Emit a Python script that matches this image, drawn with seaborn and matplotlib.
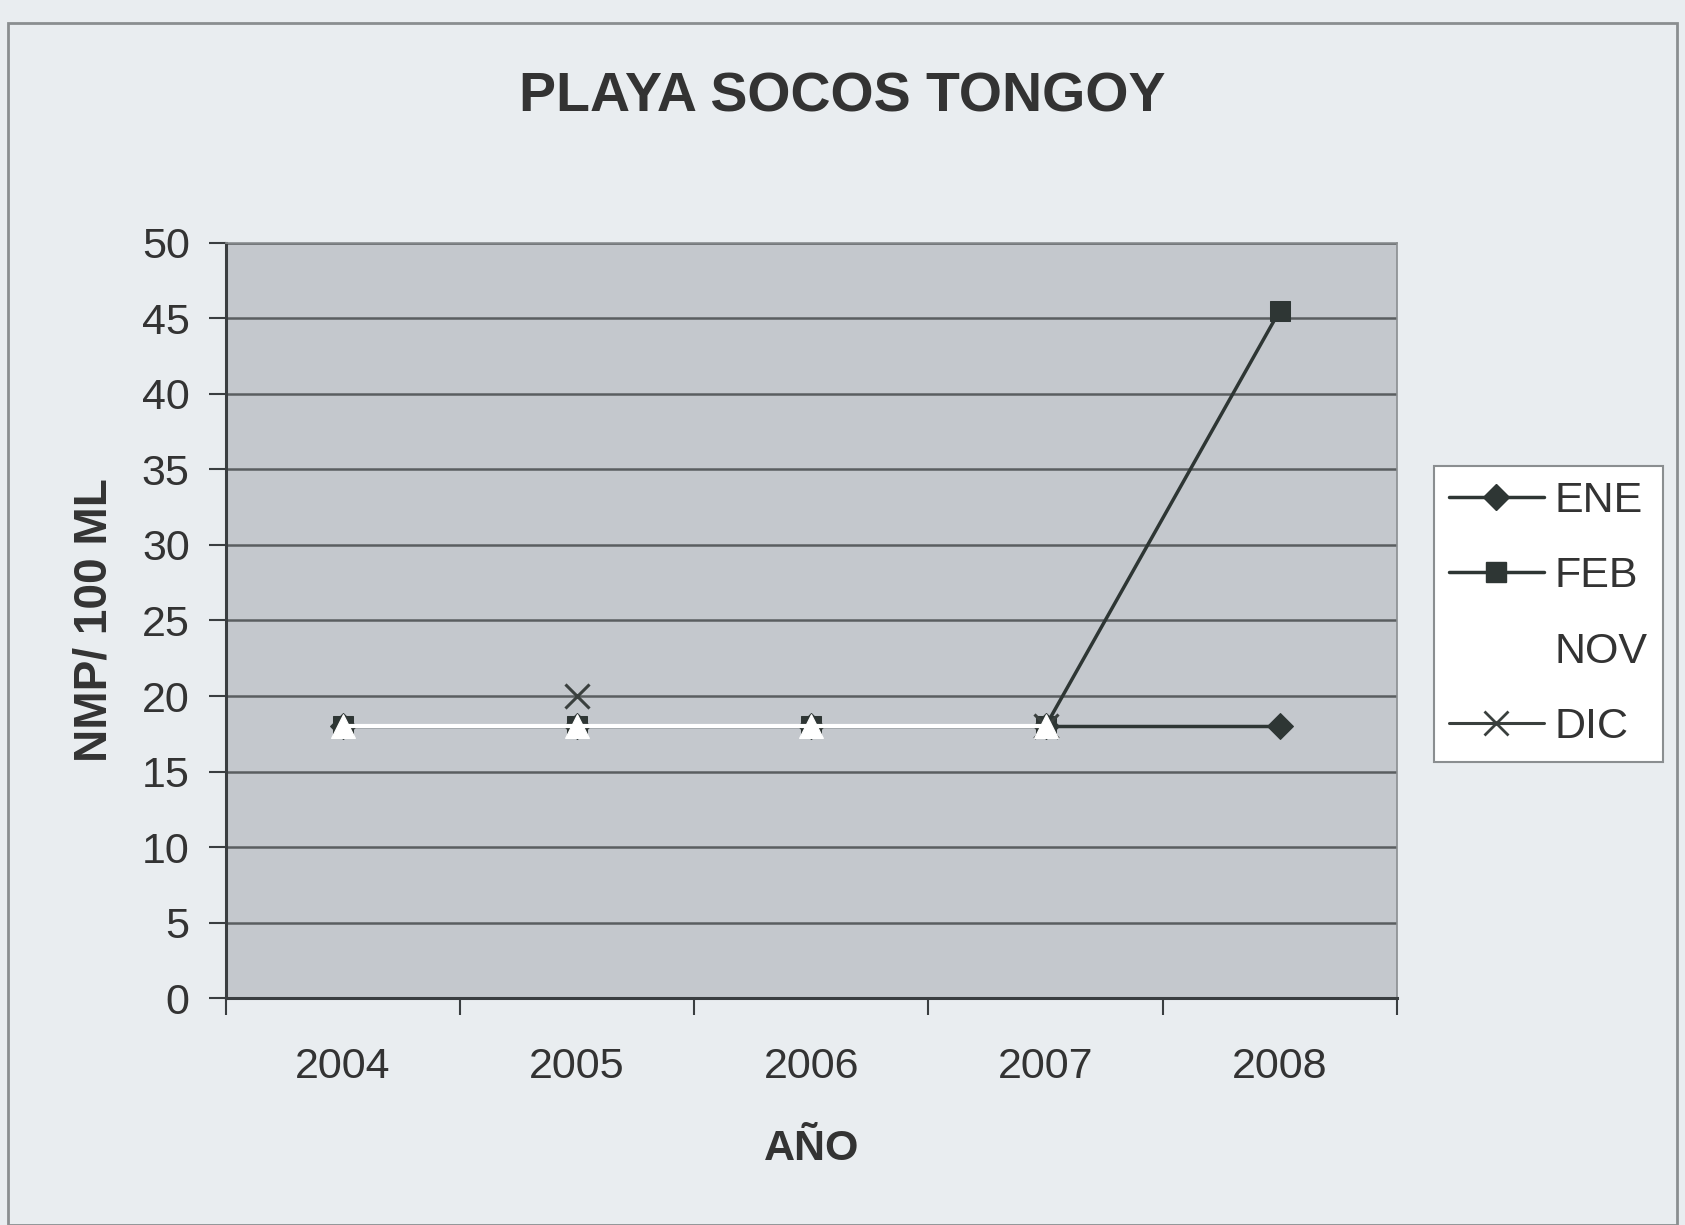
import numpy as np
import pandas as pd
import matplotlib
matplotlib.use("Agg")
import matplotlib.pyplot as plt
from matplotlib.lines import Line2D
from matplotlib.patches import Rectangle
import seaborn as sns

years = ["2004", "2005", "2006", "2007", "2008"]
ene = [18, 18, 18, 18, 18]
feb = [18, 18, 18, 18, 45.5]
nov = [18, 18, 18, 18, np.nan]
dic = [np.nan, 20, np.nan, 18, np.nan]

sns.set_theme(style="white")
plt.rcParams['font.family'] = ['Liberation Sans', 'DejaVu Sans']

fig = plt.figure(figsize=(16.85, 12.25), dpi=100)
fig.patch.set_facecolor("#e9edf0")
ax = fig.add_axes([0.134, 0.185, 0.695, 0.617])
ax.set_facecolor("#c4c8cd")

fig.patches.append(Rectangle((8/1685, 0), (1677-8)/1685, 1 - 23/1225, transform=fig.transFigure,
                             fill=False, edgecolor="#8a8e90", linewidth=2))

x = np.arange(len(years))
dark = "#2e3634"
df_ene = pd.DataFrame({"x": x, "y": ene})
df_feb = pd.DataFrame({"x": x, "y": feb})
df_nov = pd.DataFrame({"x": x, "y": nov}).dropna()
df_dic = pd.DataFrame({"x": x, "y": dic}).dropna()

sns.lineplot(data=df_ene, x="x", y="y", ax=ax, color=dark, lw=2.5, marker="D", markersize=13,
             markeredgecolor=dark, zorder=3)
sns.lineplot(data=df_feb, x="x", y="y", ax=ax, color=dark, lw=2.5, marker="s", markersize=15,
             markeredgecolor=dark, zorder=3)
sns.scatterplot(data=df_dic, x="x", y="y", ax=ax, color="#3a403e", marker="x", s=300, linewidth=2.2,
                zorder=4)
sns.lineplot(data=df_nov, x="x", y="y", ax=ax, color="white", lw=3, marker="^", markersize=17,
             markeredgecolor="white", zorder=5)

ax.set_xlim(-0.5, 4.5)
ax.set_ylim(0, 50)
ax.set_yticks(np.arange(0, 51, 5))
ax.yaxis.grid(True, color="#5a5e60", lw=1.8)
ax.set_axisbelow(True)
ax.set_xticks(np.arange(-0.5, 4.6, 1))
ax.set_xticklabels([])
ax.set_xticks(x, minor=True)
ax.set_xticklabels(years, minor=True)
ax.tick_params(axis="x", which="major", direction="out", length=12, width=1.5, color="#3a3e40", bottom=True)
ax.tick_params(axis="x", which="minor", length=0, pad=35, labelsize=31, labelcolor="#333333")
ax.tick_params(axis="y", direction="out", length=12, width=1.5, color="#3a3e40", left=True,
               labelsize=31, labelcolor="#333333", pad=14)
for s in ["left", "bottom"]:
    ax.spines[s].set_color("#3a3e40")
    ax.spines[s].set_linewidth(2.2)
for s in ["top", "right"]:
    ax.spines[s].set_color("#8a8e90")
    ax.spines[s].set_linewidth(1.2)

ax.set_xlabel("AÑO", fontsize=31, fontweight="bold", color="#333333", labelpad=30)
ax.set_ylabel("NMP/ 100 ML", fontsize=33, fontweight="bold", color="#333333", labelpad=18)
fig.text(0.5, 0.920, "PLAYA SOCOS TONGOY", ha="center", va="center", fontsize=40,
         fontweight="bold", color="#333333")

handles = [
    Line2D([], [], color=dark, lw=2.5, marker="D", markersize=13),
    Line2D([], [], color=dark, lw=2.5, marker="s", markersize=14),
    Line2D([], [], color="white", lw=3, marker="^", markersize=0),
    Line2D([], [], color="#3a403e", lw=2.2, marker="x", markersize=17, markeredgewidth=2),
]
leg = fig.legend(handles, ["ENE", "FEB", "NOV", "DIC"], loc="center left",
                 bbox_to_anchor=(1434/1685, 1 - 614/1225), fontsize=31, frameon=True,
                 fancybox=False, edgecolor="#8a8e90", facecolor="white", framealpha=1,
                 handlelength=2.2, handletextpad=0.25, labelspacing=0.82, borderpad=0.35,
                 borderaxespad=0)
leg.get_frame().set_linewidth(1.5)
for t in leg.get_texts():
    t.set_color("#333333")

fig.savefig("out.png", dpi=100, facecolor=fig.get_facecolor())
